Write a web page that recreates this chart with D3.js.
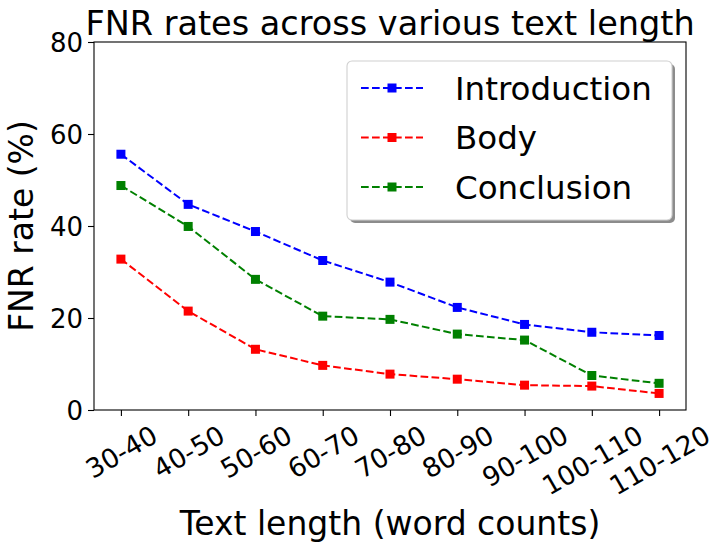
<!DOCTYPE html>
<html><head><meta charset="utf-8">
<script src="https://cdn.jsdelivr.net/npm/d3@7"></script>
<style>html,body{margin:0;padding:0;background:#fff;} svg{display:block;font-family:"DejaVu Sans",sans-serif;}</style>
</head><body>
<script>
const categories = ["30-40","40-50","50-60","60-70","70-80","80-90","90-100","100-110","110-120"];
const introduction = [55.6, 44.7, 38.8, 32.5, 27.8, 22.3, 18.6, 16.9, 16.2];
const body = [32.8, 21.5, 13.2, 9.7, 7.8, 6.7, 5.4, 5.2, 3.6];
const conclusion = [48.8, 39.9, 28.4, 20.4, 19.7, 16.5, 15.2, 7.5, 5.8];
const yTicks = [0, 20, 40, 60, 80];
const seriesNames = ["Introduction", "Body", "Conclusion"];
const seriesColors = ["#0000ff", "#ff0000", "#008000"];
const titleText = "FNR rates across various text length";
const xLabelText = "Text length (word counts)";
const yLabelText = "FNR rate (%)";

const W = 726, H = 551;
const L = 94, R = 686, T = 42, B = 410;
const svg = d3.select("body").append("svg").attr("width", W).attr("height", H);

const x = d3.scaleLinear().domain([-0.4, categories.length - 1 + 0.4]).range([L, R]);
const y = d3.scaleLinear().domain([0, 80]).range([B, T]);

// frame
svg.append("rect").attr("x", L).attr("y", T).attr("width", R - L).attr("height", B - T)
  .attr("fill", "none").attr("stroke", "#000").attr("stroke-width", 1.1);

// y axis
const yAxis = d3.axisLeft(y).tickValues(yTicks).tickSize(6).tickPadding(5);
const gy = svg.append("g").attr("transform", `translate(${L},0)`).call(yAxis);
gy.select(".domain").remove();
gy.selectAll("text").attr("font-size", 26).attr("font-family", "DejaVu Sans").attr("fill", "#000").attr("dy", "0.36em");
gy.selectAll("line").attr("stroke", "#000").attr("stroke-width", 1.1);

// x axis
const xAxis = d3.axisBottom(x).tickValues(d3.range(categories.length)).tickFormat(i => categories[i]).tickSize(6);
const gx = svg.append("g").attr("transform", `translate(0,${B})`).call(xAxis);
gx.select(".domain").remove();
gx.selectAll("line").attr("stroke", "#000").attr("stroke-width", 1.1);
gx.selectAll("text").each(function() {
  const t = d3.select(this);
  t.attr("font-size", 26.5).attr("font-family", "DejaVu Sans").attr("fill", "#000")
   .attr("text-anchor", "middle").attr("y", 0).attr("dy", "0.36em");
  const w = this.getComputedTextLength();
  const h = 26.5;
  const vh = w * 0.5 + h * 0.866;
  const cy = 11 + vh / 2;
  t.attr("transform", `translate(0,${cy}) rotate(-30)`);
});

// lines
const allSeries = [introduction, body, conclusion];
const line = d3.line().x((d, i) => x(i)).y(d => y(d));
allSeries.forEach((vals, si) => {
  svg.append("path").datum(vals).attr("d", line).attr("fill", "none")
    .attr("stroke", seriesColors[si]).attr("stroke-width", 2).attr("stroke-dasharray", "7.7,3.3");
  svg.selectAll(null).data(vals).enter().append("rect")
    .attr("x", (d, i) => x(i) - 4.5).attr("y", d => y(d) - 4.5)
    .attr("width", 9).attr("height", 9).attr("fill", seriesColors[si]);
});

// title
svg.append("text").attr("x", (L + R) / 2).attr("y", 35).attr("text-anchor", "middle")
  .attr("font-size", 33.5).attr("fill", "#000").text(titleText);
// x label
svg.append("text").attr("x", (L + R) / 2).attr("y", 535).attr("text-anchor", "middle")
  .attr("font-size", 33).attr("fill", "#000").text(xLabelText);
// y label
svg.append("text").attr("transform", `translate(33,${(T + B) / 2}) rotate(-90)`).attr("text-anchor", "middle")
  .attr("font-size", 33).attr("fill", "#000").text(yLabelText);

// legend
const lg = svg.append("g");
lg.append("rect").attr("x", 350).attr("y", 64).attr("width", 325).attr("height", 159).attr("rx", 5)
  .attr("fill", "#808080").attr("opacity", 0.9);
lg.append("rect").attr("x", 347).attr("y", 61).attr("width", 325).attr("height", 159).attr("rx", 5)
  .attr("fill", "#fff").attr("stroke", "#d0d0d0").attr("stroke-width", 1.1);
const rowY = [88, 137.5, 187];
seriesNames.forEach((n, i) => {
  lg.append("line").attr("x1", 361).attr("x2", 423).attr("y1", rowY[i]).attr("y2", rowY[i])
    .attr("stroke", seriesColors[i]).attr("stroke-width", 2).attr("stroke-dasharray", "7.7,3.3");
  lg.append("rect").attr("x", 392 - 4.5).attr("y", rowY[i] - 4.5).attr("width", 9).attr("height", 9)
    .attr("fill", seriesColors[i]);
  lg.append("text").attr("x", 455).attr("y", rowY[i]).attr("dy", "0.36em")
    .attr("font-size", 32.5).attr("fill", "#000").text(n);
});
</script>
</body></html>
